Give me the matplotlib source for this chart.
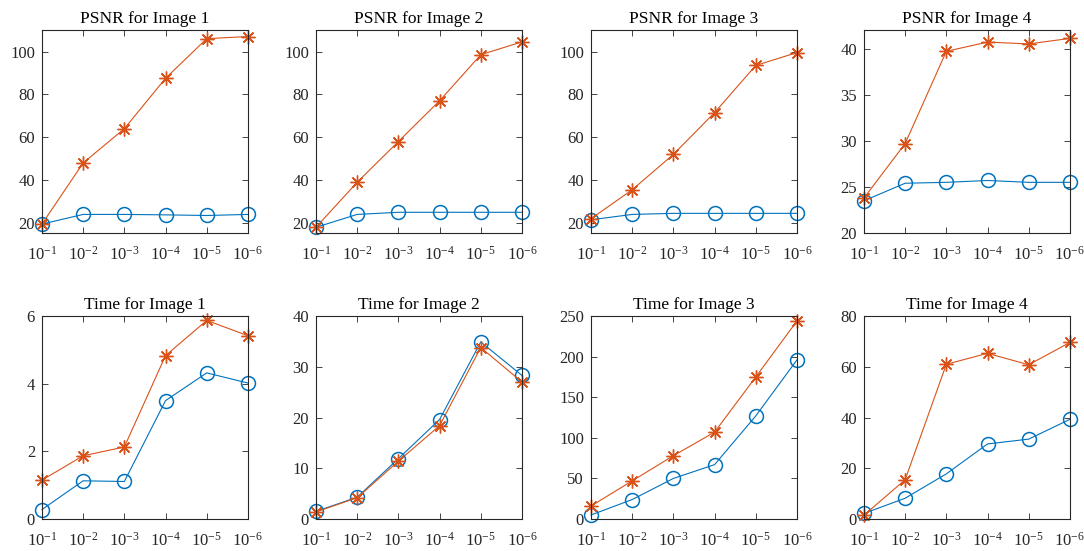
import numpy as np
import matplotlib
matplotlib.use('Agg')
import matplotlib.pyplot as plt

plt.rcParams['font.family'] = ['Liberation Serif', 'DejaVu Serif']
plt.rcParams['mathtext.fontset'] = 'custom'
plt.rcParams['mathtext.rm'] = 'Liberation Serif'
plt.rcParams['mathtext.it'] = 'Liberation Serif:italic'

xlabels = ['$\\mathregular{10^{-1}}$', '$\\mathregular{10^{-2}}$', '$\\mathregular{10^{-3}}$',
           '$\\mathregular{10^{-4}}$', '$\\mathregular{10^{-5}}$', '$\\mathregular{10^{-6}}$']
x = np.arange(1, 7)

# PSNR (blue circles / red asterisks)
psnr_blue = [
    [19.5, 24.0, 24.0, 23.8, 23.5, 24.0],
    [18.0, 24.0, 25.0, 25.0, 25.0, 25.0],
    [21.5, 24.0, 24.5, 24.5, 24.5, 24.5],
    [23.5, 25.4, 25.5, 25.7, 25.5, 25.5],
]
psnr_red = [
    [19.5, 48.0, 64.0, 87.5, 106.0, 107.0],
    [18.0, 39.0, 58.0, 77.0, 98.5, 104.5],
    [22.0, 35.5, 52.0, 71.5, 93.5, 99.5],
    [23.8, 29.7, 39.7, 40.7, 40.5, 41.1],
]
# time
time_blue = [
    [0.28, 1.13, 1.11, 3.5, 4.32, 4.02],
    [1.5, 4.3, 11.9, 19.6, 34.9, 28.3],
    [5, 24, 50, 67, 127, 196],
    [2.2, 8.2, 17.8, 29.6, 31.5, 39.3],
]
time_red = [
    [1.15, 1.87, 2.13, 4.83, 5.87, 5.42],
    [1.4, 4.2, 11.4, 18.4, 33.8, 27.0],
    [16, 47, 78, 107, 175, 244],
    [1.5, 15.5, 61, 65.3, 60.8, 69.6],
]

psnr_lims = [(15.3, 110), (15.3, 110), (15.3, 110), (20, 42)]
psnr_ticks = [[20, 40, 60, 80, 100]] * 3 + [[20, 25, 30, 35, 40]]
time_lims = [(0, 6), (0, 40), (0, 250), (0, 80)]
time_ticks = [[0, 2, 4, 6], [0, 10, 20, 30, 40], [0, 50, 100, 150, 200, 250], [0, 20, 40, 60, 80]]

blue = '#0072BD'
red = '#D95319'
gray = '#262626'

fig = plt.figure(figsize=(10.84, 5.51), dpi=100)
lefts = [0.0387, 0.2915, 0.5452, 0.797]
w, h = 0.190, 0.3684


def style(ax, lims, ticks, title):
    ax.set_xlim(1, 6)
    ax.set_ylim(*lims)
    ax.set_yticks(ticks)
    ax.set_xticks(x)
    ax.set_xticklabels(xlabels)
    ax.tick_params(direction='in', top=True, right=True, length=4, width=0.6,
                   labelsize=12, colors=gray)
    ax.tick_params(axis='x', pad=9)
    ax.tick_params(axis='y', pad=5)
    for s in ax.spines.values():
        s.set_color(gray)
        s.set_linewidth(0.8)
    ax.set_title(title, fontsize=12.5, color='black', pad=5)


for i in range(4):
    ax = fig.add_axes([lefts[i], 0.577, w, h])
    ax.plot(x, psnr_blue[i], '-', color=blue, lw=0.8, marker='o', ms=10,
            mfc='none', mew=1.1, clip_on=False)
    ax.plot(x, psnr_red[i], '-', color=red, lw=0.8, marker=(8, 2, 0), ms=10,
            mew=1.0, clip_on=False)
    style(ax, psnr_lims[i], psnr_ticks[i], f'PSNR for Image {i+1}')

    ax = fig.add_axes([lefts[i], 0.058, w, h])
    ax.plot(x, time_blue[i], '-', color=blue, lw=0.8, marker='o', ms=10,
            mfc='none', mew=1.1, clip_on=False)
    ax.plot(x, time_red[i], '-', color=red, lw=0.8, marker=(8, 2, 0), ms=10,
            mew=1.0, clip_on=False)
    style(ax, time_lims[i], time_ticks[i], f'Time for Image {i+1}')

fig.savefig('out.png', dpi=100, facecolor='white')
